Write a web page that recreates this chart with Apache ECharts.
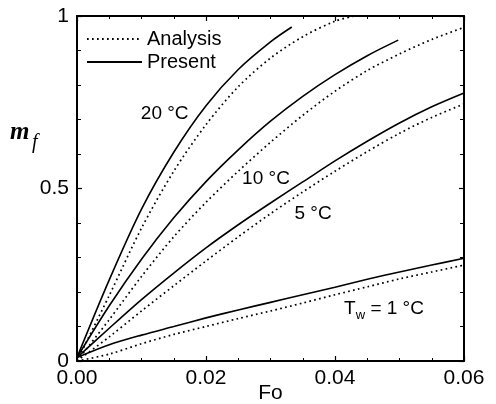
<!DOCTYPE html>
<html><head><meta charset="utf-8">
<script src="https://cdn.jsdelivr.net/npm/echarts@6/dist/echarts.min.js"></script>
<style>html,body{margin:0;padding:0;background:#fff}#c{width:496px;height:404px}</style>
</head><body><div id="c"></div>
<script>
// ---- data ----
const xTicks = [0, 0.02, 0.04, 0.06];
const yTicks = [0, 0.5, 1];

const fo20Present = [0, 0.005, 0.01, 0.015, 0.02, 0.025, 0.03, 0.0333];
const m20Present  = [0.01, 0.235, 0.44, 0.605, 0.74, 0.845, 0.925, 0.968];
const fo20Analysis = [0, 0.005, 0.01, 0.015, 0.02, 0.025, 0.03, 0.035, 0.04, 0.043];
const m20Analysis  = [0, 0.19, 0.385, 0.55, 0.685, 0.795, 0.878, 0.94, 0.985, 1.0];

const fo10Present = [0, 0.005, 0.01, 0.015, 0.02, 0.025, 0.03, 0.035, 0.04, 0.045, 0.0498];
const m10Present  = [0.01, 0.16, 0.295, 0.415, 0.52, 0.612, 0.695, 0.767, 0.83, 0.885, 0.93];
const foFull = [0, 0.005, 0.01, 0.015, 0.02, 0.025, 0.03, 0.035, 0.04, 0.045, 0.05, 0.055, 0.06];
const m10Analysis = [0, 0.12, 0.245, 0.36, 0.46, 0.55, 0.634, 0.712, 0.782, 0.842, 0.89, 0.932, 0.967];

const m5Present  = [0.01, 0.095, 0.178, 0.255, 0.328, 0.395, 0.458, 0.519, 0.58, 0.637, 0.69, 0.737, 0.777];
const m5Analysis = [0, 0.07, 0.145, 0.218, 0.29, 0.36, 0.427, 0.49, 0.55, 0.607, 0.66, 0.706, 0.745];

const m1Present  = [0.01, 0.047, 0.075, 0.10, 0.125, 0.148, 0.17, 0.192, 0.214, 0.237, 0.258, 0.278, 0.298];
const m1Analysis = [0, 0.02, 0.05, 0.077, 0.10, 0.123, 0.145, 0.168, 0.192, 0.215, 0.238, 0.258, 0.278];

const curveLabels = ['20 °C', '10 °C', '5 °C', '{t|T}{s|w}{t| = 1 °C}'];
const labelFo = [0.0136, 0.0293, 0.0366, 0.0476];
const labelM  = [0.716, 0.528, 0.426, 0.151];

// ---- chart ----
const FONT = "'Liberation Sans', Arial, Helvetica, sans-serif";
const pairs = (f, m) => f.map((x, i) => [x, m[i]]);
const solidStyle = {color: '#000', width: 1.6, type: 'solid'};
const dotStyle = {color: '#000', width: 1.7, type: [1.7, 3.3]};

function line(name, f, m, style) {
  return {type: 'line', name, data: pairs(f, m), symbol: 'none', smooth: 0.3,
    lineStyle: style, itemStyle: {color: '#000'}, silent: true, z: 3};
}

const series = [
  line('Analysis', fo20Analysis, m20Analysis, dotStyle),
  line('Present', fo20Present, m20Present, solidStyle),
  line('Analysis', foFull, m10Analysis, dotStyle),
  line('Present', fo10Present, m10Present, solidStyle),
  line('Analysis', foFull, m5Analysis, dotStyle),
  line('Present', foFull, m5Present, solidStyle),
  line('Analysis', foFull, m1Analysis, dotStyle),
  line('Present', foFull, m1Present, solidStyle),
  {type: 'scatter', name: 'labels', symbolSize: 0, silent: true, z: 5,
   itemStyle: {opacity: 1, color: '#000'},
   data: labelFo.map((x, i) => ({value: [x, labelM[i]], name: curveLabels[i]})),
   label: {show: true, position: 'inside', formatter: p => p.name,
     color: '#000', fontSize: 19, fontFamily: FONT, opacity: 1,
     rich: {t: {fontSize: 19, fontFamily: FONT, color: '#000'},
            s: {fontSize: 13, fontFamily: FONT, color: '#000', padding: [14, 0, 0, 0]}}}}
];

const axisCommon = {
  type: 'value',
  axisLine: {show: true, onZero: false, lineStyle: {color: '#000', width: 2}},
  axisTick: {show: true, inside: true, length: 5, lineStyle: {color: '#000', width: 1.2}},
  minorTick: {show: true, inside: true, length: 3, lineStyle: {color: '#000', width: 1}},
  splitLine: {show: false}, minorSplitLine: {show: false}
};

const option = {
  animation: false,
  backgroundColor: '#fff',
  grid: {left: 77, right: 32, top: 16, bottom: 43, containLabel: false, outerBoundsMode: 'none'},
  legend: {
    left: 86, top: 29, orient: 'vertical', padding: 0, itemWidth: 55, itemHeight: 14, itemGap: 3,
    data: ['Analysis', 'Present'], selectedMode: false,
    itemStyle: {opacity: 0},
    textStyle: {fontSize: 20, fontFamily: FONT, color: '#000'}
  },
  xAxis: [
    Object.assign({}, axisCommon, {
      min: xTicks[0], max: xTicks[xTicks.length - 1], interval: xTicks[1] - xTicks[0],
      position: 'bottom', minorTick: Object.assign({}, axisCommon.minorTick, {splitNumber: 4}),
      axisLabel: {formatter: v => v.toFixed(2), color: '#000', fontSize: 21, fontFamily: FONT, margin: 7},
      name: 'Fo', nameLocation: 'middle', nameGap: 22, nameMoveOverlap: false,
      nameTextStyle: {fontSize: 21, fontFamily: FONT, color: '#000'}
    }),
    Object.assign({}, axisCommon, {
      min: xTicks[0], max: xTicks[xTicks.length - 1], interval: xTicks[1] - xTicks[0],
      position: 'top', minorTick: Object.assign({}, axisCommon.minorTick, {splitNumber: 4}),
      axisLabel: {show: false}
    })
  ],
  yAxis: [
    Object.assign({}, axisCommon, {
      min: yTicks[0], max: yTicks[yTicks.length - 1], interval: yTicks[1] - yTicks[0],
      position: 'left', minorTick: Object.assign({}, axisCommon.minorTick, {splitNumber: 5, length: 4}),
      axisLabel: {formatter: v => String(v), color: '#000', fontSize: 21, fontFamily: FONT, margin: 8}
    }),
    Object.assign({}, axisCommon, {
      min: yTicks[0], max: yTicks[yTicks.length - 1], interval: yTicks[1] - yTicks[0],
      position: 'right', minorTick: Object.assign({}, axisCommon.minorTick, {splitNumber: 5, length: 4}),
      axisLabel: {show: false}
    })
  ],
  graphic: [
    {type: 'text', left: 10, top: 120, silent: true,
     style: {text: 'm', font: "italic bold 25px 'Liberation Serif', 'Times New Roman', serif", fill: '#000'}},
    {type: 'text', left: 32, top: 133, silent: true,
     style: {text: 'f', font: "italic 20px 'Liberation Serif', 'Times New Roman', serif", fill: '#000'}}
  ],
  series
};

const chart = echarts.init(document.getElementById('c'));
chart.setOption(option);
</script></body></html>
